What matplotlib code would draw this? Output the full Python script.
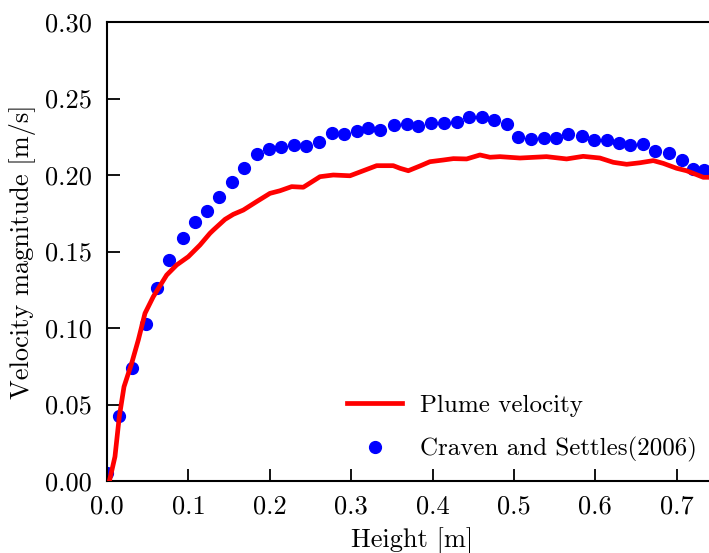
import matplotlib
matplotlib.use('Agg')
import matplotlib.pyplot as plt

plt.rcParams['font.family'] = 'serif'
plt.rcParams['font.serif'] = ['cmr10']
plt.rcParams['mathtext.fontset'] = 'cm'
plt.rcParams['axes.formatter.use_mathtext'] = True
plt.rcParams['axes.unicode_minus'] = False

# simulated plume velocity (red line)
height_sim = [0.003, 0.0098, 0.0151, 0.0209, 0.0303, 0.0385, 0.0467, 0.0569, 0.0733, 0.0856,
              0.0999, 0.1142, 0.1265, 0.1306, 0.145, 0.1552, 0.1675, 0.1838, 0.2002, 0.2125,
              0.2269, 0.2412, 0.2617, 0.278, 0.2985, 0.3149, 0.3313, 0.3517, 0.36, 0.3702,
              0.3845, 0.3968, 0.4132, 0.4255, 0.4419, 0.4582, 0.4705, 0.4828, 0.5074, 0.54,
              0.5647, 0.585, 0.6056, 0.622, 0.6385, 0.6548, 0.6712, 0.6835, 0.6998, 0.712,
              0.7203, 0.7326, 0.7395, 0.75]
vel_sim = [0.0, 0.0159, 0.042, 0.0616, 0.0769, 0.0922, 0.1096, 0.1205, 0.1346, 0.1412,
           0.1466, 0.1542, 0.1619, 0.164, 0.171, 0.1743, 0.1771, 0.1826, 0.188, 0.1897,
           0.1924, 0.192, 0.1989, 0.2, 0.1995, 0.2028, 0.2061, 0.2061, 0.2044, 0.2028,
           0.2059, 0.2087, 0.2098, 0.2107, 0.2105, 0.2131, 0.2116, 0.212, 0.2111, 0.212,
           0.2105, 0.2122, 0.2111, 0.2083, 0.207, 0.208, 0.2094, 0.2076, 0.2044, 0.2028,
           0.2011, 0.1985, 0.1985, 0.199]

# Craven and Settles (2006) experiment (blue dots)
height_exp = [0.0, 0.0147, 0.0303, 0.0479, 0.0618, 0.0765, 0.093, 0.108, 0.1224, 0.1376,
              0.154, 0.1683, 0.1847, 0.199, 0.2138, 0.2297, 0.245, 0.2604, 0.276, 0.2916,
              0.3067, 0.321, 0.336, 0.3526, 0.368, 0.3825, 0.398, 0.4144, 0.4296, 0.445,
              0.4603, 0.4754, 0.491, 0.5053, 0.5205, 0.5369, 0.552, 0.567, 0.5835, 0.5987,
              0.6138, 0.6286, 0.6425, 0.659, 0.673, 0.69, 0.706, 0.7194, 0.7334]
vel_exp = [0.005, 0.0425, 0.074, 0.1024, 0.126, 0.1444, 0.159, 0.169, 0.1767, 0.1858,
           0.1954, 0.2048, 0.2137, 0.2172, 0.218, 0.2196, 0.2188, 0.2214, 0.2272, 0.2266,
           0.2288, 0.2307, 0.2294, 0.2327, 0.2331, 0.232, 0.2342, 0.2338, 0.2344, 0.2379,
           0.2377, 0.2362, 0.2336, 0.2246, 0.2235, 0.224, 0.2244, 0.2268, 0.2253, 0.2231,
           0.2231, 0.2207, 0.2196, 0.2203, 0.2159, 0.2142, 0.2098, 0.2041, 0.2033]

fig = plt.figure(figsize=(7.09, 5.53), dpi=100)
ax = fig.add_axes([0.1509, 0.1302, 0.861, 0.830])

ax.plot(height_sim, vel_sim, color='red', linewidth=3.4, label='Plume velocity', zorder=3)
ax.plot(height_exp, vel_exp, linestyle='none', marker='o', markersize=8.5, color='blue',
        label='Craven and Settles(2006)', zorder=2)

ax.set_xlim(0, 0.75)
ax.set_ylim(0, 0.30)
ax.set_xticks([0.0, 0.1, 0.2, 0.3, 0.4, 0.5, 0.6, 0.7])
ax.set_xticklabels(['0.0', '0.1', '0.2', '0.3', '0.4', '0.5', '0.6', '0.7'])
ax.set_yticks([0.0, 0.05, 0.10, 0.15, 0.20, 0.25, 0.30])
ax.set_yticklabels(['0.00', '0.05', '0.10', '0.15', '0.20', '0.25', '0.30'])
ax.tick_params(direction='in', length=9, width=1.3, labelsize=19)
ax.tick_params(axis='x', pad=10)
ax.tick_params(axis='y', pad=11)
for s in ax.spines.values():
    s.set_linewidth(1.5)

ax.set_xlabel('Height [m]', fontsize=19, labelpad=6)
ax.set_ylabel('Velocity magnitude [m/s]', fontsize=19, labelpad=6)

ax.legend(loc='lower left', bbox_to_anchor=(0.476, 0.146), bbox_transform=fig.transFigure,
          frameon=False, fontsize=18, handlelength=2.2, handletextpad=0.7,
          labelspacing=0.82, borderaxespad=0)

fig.savefig('out.png', dpi=100)
